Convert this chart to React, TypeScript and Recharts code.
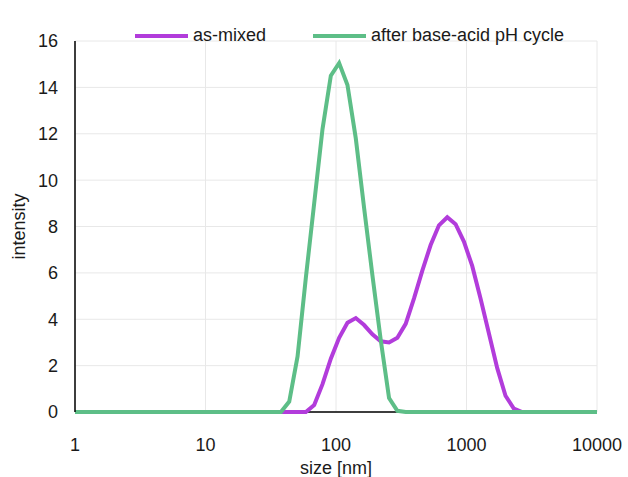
import React from 'react'
import {
  ComposedChart,
  Line,
  XAxis,
  YAxis,
  CartesianGrid,
  Legend,
} from 'recharts'

// size bins (nm), log spaced
const sizes = [
  0.9649, 1.117, 1.294, 1.499, 1.736, 2.01, 2.328, 2.696, 3.122, 3.615,
  4.187, 4.849, 5.615, 6.503, 7.531, 8.721, 10.1, 11.7, 13.54, 15.69,
  18.17, 21.04, 24.36, 28.21, 32.67, 37.84, 43.82, 50.75, 58.77, 68.06,
  78.82, 91.28, 105.7, 122.4, 141.8, 164.2, 190.1, 220.2, 255.0, 295.3,
  342.0, 396.1, 458.7, 531.2, 615.1, 712.4, 825.0, 955.4, 1106, 1281,
  1484, 1718, 1990, 2305, 2669, 3091, 3580, 4145, 4801, 5560,
  6439, 7456, 8635, 10000,
]

const asMixed = [
  0, 0, 0, 0, 0, 0, 0, 0, 0, 0,
  0, 0, 0, 0, 0, 0, 0, 0, 0, 0,
  0, 0, 0, 0, 0, 0, 0, 0, 0, 0.3,
  1.2, 2.3, 3.2, 3.85, 4.05, 3.75, 3.35, 3.05, 3.0, 3.2,
  3.8, 4.9, 6.1, 7.2, 8.05, 8.4, 8.1, 7.35, 6.3, 4.9,
  3.4, 1.9, 0.7, 0.15, 0, 0, 0, 0, 0, 0,
  0, 0, 0, 0,
]

const afterCycle = [
  0, 0, 0, 0, 0, 0, 0, 0, 0, 0,
  0, 0, 0, 0, 0, 0, 0, 0, 0, 0,
  0, 0, 0, 0, 0, 0, 0.45, 2.4, 5.8, 9.0,
  12.2, 14.5, 15.05, 14.1, 11.8, 8.8, 5.9, 3.1, 0.6, 0.05,
  0, 0, 0, 0, 0, 0, 0, 0, 0, 0,
  0, 0, 0, 0, 0, 0, 0, 0, 0, 0,
  0, 0, 0, 0,
]

const xTicks = [1, 10, 100, 1000, 10000]
const yTicks = [0, 2, 4, 6, 8, 10, 12, 14, 16]

const PURPLE = '#b23cdb'
const GREEN = '#5dbe87'
const FONT = '"Liberation Sans", Arial, sans-serif'

const data = sizes.map((s, i) => ({
  size: s,
  asMixed: asMixed[i],
  after: afterCycle[i],
}))

const LegendContent = () => (
  <div style={{ display: 'flex', alignItems: 'center', fontFamily: FONT, fontSize: 18, color: '#1a1a1a' }}>
    <div style={{ display: 'flex', alignItems: 'center', width: 178 }}>
      <div style={{ width: 53, height: 4, background: PURPLE, marginRight: 5 }} />
      <span>as-mixed</span>
    </div>
    <div style={{ display: 'flex', alignItems: 'center' }}>
      <div style={{ width: 53, height: 4, background: GREEN, marginRight: 5 }} />
      <span>after base-acid pH cycle</span>
    </div>
  </div>
)

export default function App() {
  const tickStyle = { fill: '#1a1a1a', fontSize: 18, fontFamily: FONT }
  return (
    <div style={{ position: 'absolute', left: 0, top: 0, width: 628, height: 477, background: '#fff' }}>
      <ComposedChart
        width={628}
        height={477}
        data={data}
        margin={{ top: 20, right: 31, bottom: 0, left: 0 }}
      >
        <CartesianGrid stroke="#e8e8e8" strokeWidth={1} />
        <XAxis
          dataKey="size"
          type="number"
          scale="log"
          domain={[1, 10000]}
          ticks={xTicks}
          allowDataOverflow
          height={65}
          tickLine={false}
          tickSize={0}
          tickMargin={26}
          axisLine={false}
          tick={tickStyle}
          label={{ value: 'size [nm]', position: 'insideBottom', offset: 0, dy: -3, style: tickStyle }}
        />
        <YAxis
          type="number"
          domain={[0, 16]}
          ticks={yTicks}
          width={75}
          tickLine={false}
          tickSize={0}
          tickMargin={17}
          axisLine={{ stroke: '#000', strokeWidth: 1.5 }}
          tick={tickStyle}
          label={{ value: 'intensity', angle: -90, position: 'insideLeft', offset: 19, textAnchor: 'middle', style: tickStyle }}
        />
        <Legend
          verticalAlign="top"
          content={<LegendContent />}
          wrapperStyle={{ position: 'absolute', top: 25, left: 135, width: 460 }}
        />
        {/* baseline drawn as a series so the data lines cover it */}
        <Line
          type="linear"
          dataKey={() => 0}
          stroke="#000"
          strokeWidth={1.5}
          dot={false}
          activeDot={false}
          legendType="none"
          isAnimationActive={false}
        />
        <Line
          type="linear"
          dataKey="asMixed"
          name="as-mixed"
          stroke={PURPLE}
          strokeWidth={4}
          dot={false}
          activeDot={false}
          isAnimationActive={false}
        />
        <Line
          type="linear"
          dataKey="after"
          name="after base-acid pH cycle"
          stroke={GREEN}
          strokeWidth={4}
          dot={false}
          activeDot={false}
          isAnimationActive={false}
        />
      </ComposedChart>
    </div>
  )
}
